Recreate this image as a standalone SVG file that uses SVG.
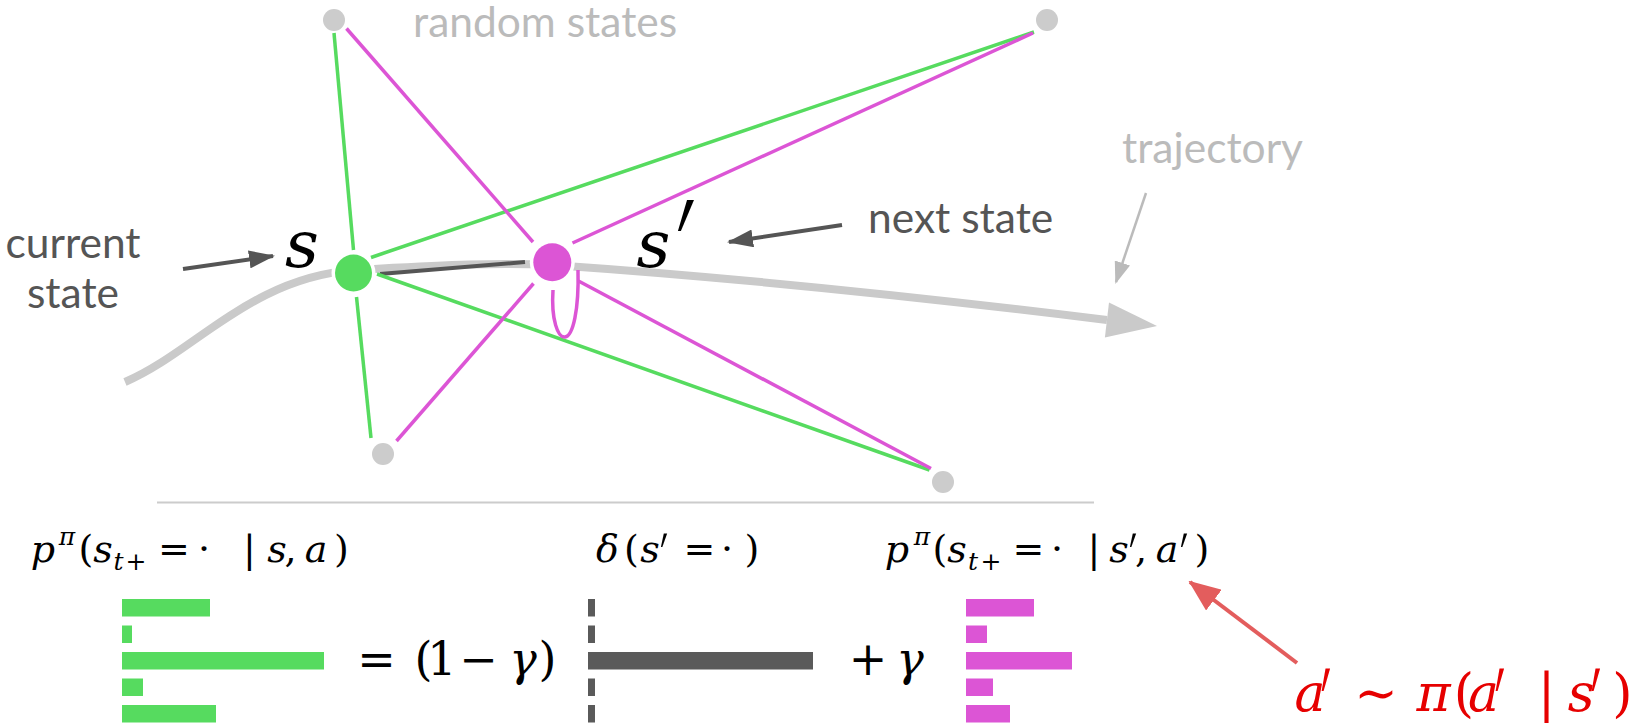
<svg xmlns="http://www.w3.org/2000/svg" width="1638" height="727" viewBox="0 0 1638 727">
<defs>
<style>
.lbl{font-family:Lato,"Open Sans","Liberation Sans",sans-serif;font-size:42.5px}
.dark{fill:#555}
.light{fill:#bbb}
.m{text-anchor:middle;font-family:"DejaVu Serif",serif}
.i{font-style:italic}
.g{stroke:#56db5f;stroke-width:3.5;fill:none}
.p{stroke:#dc55d5;stroke-width:3.5;fill:none}
</style>
<marker id="ad" markerUnits="userSpaceOnUse" markerWidth="26" markerHeight="18" refX="24" refY="9" orient="auto"><path d="M0,0 L26,9 L0,18 z" fill="#555"/></marker>
<marker id="al" markerUnits="userSpaceOnUse" markerWidth="22" markerHeight="16" refX="20" refY="8" orient="auto"><path d="M0,0 L22,8 L0,16 z" fill="#bbb"/></marker>
<marker id="ar" markerUnits="userSpaceOnUse" markerWidth="32" markerHeight="26" refX="30" refY="13" orient="auto"><path d="M0,0 L32,13 L0,26 z" fill="#e35d5d"/></marker>
</defs>
<rect width="1638" height="727" fill="#fff"/>

<g id="trajectory">
<path d="M125,382 C195,352 250,278 354,270 C430,266 490,262 552,265 Q800,282 1107,320" fill="none" stroke="#cacaca" stroke-width="8"/>
<polygon points="1157,326 1109,302.6 1104.9,337.4" fill="#cacaca"/>
</g>

<g id="connectors">
<line x1="380" y1="274" x2="525" y2="262" stroke="#555" stroke-width="4"/>
<line class="g" x1="334" y1="33" x2="353.5" y2="250"/>
<line class="g" x1="371" y1="257.5" x2="1034" y2="32"/>
<line class="g" x1="356.5" y1="297" x2="371" y2="438"/>
<line class="g" x1="377" y1="274" x2="929.5" y2="470"/>
<line class="p" x1="346.5" y1="28.5" x2="533" y2="242"/>
<line class="p" x1="572.5" y1="243" x2="1033" y2="33"/>
<line class="p" x1="533.5" y1="283.5" x2="396.5" y2="441"/>
<line class="p" x1="578.5" y1="281" x2="931" y2="468.5"/>
<path class="p" d="M553,290 C551,320 558,338 565,337 C573,336 579,310 578,270"/>
<line x1="183" y1="269" x2="273" y2="256" stroke="#555" stroke-width="4" marker-end="url(#ad)"/>
<line x1="842" y1="225" x2="729" y2="242" stroke="#555" stroke-width="4" marker-end="url(#ad)"/>
<line x1="1146" y1="193" x2="1116" y2="282" stroke="#bbb" stroke-width="2.5" marker-end="url(#al)"/>
<line x1="1297" y1="663" x2="1190" y2="582" stroke="#e35d5d" stroke-width="4" marker-end="url(#ar)"/>
</g>

<g id="node-s">
<circle cx="353.5" cy="273" r="22" fill="#fff"/>
<circle cx="353.5" cy="273" r="18.5" fill="#56db5f"/>
<text class="m i" x="302" y="267" font-size="66">s</text>
</g>
<g id="node-s-prime">
<circle cx="552.3" cy="262.3" r="22.5" fill="#fff"/>
<circle cx="552.3" cy="262.3" r="19" fill="#dc55d5"/>
<text class="m i" x="653.5" y="267" font-size="66">s</text>
<text class="m" transform="translate(675,324) scale(1,2.43) skewX(-14)" font-size="70">′</text>
</g>
<g id="random-states" fill="#ccc">
<circle cx="334" cy="20" r="11"/>
<circle cx="1047" cy="20" r="11"/>
<circle cx="383" cy="454" r="11"/>
<circle cx="943" cy="482" r="11"/>
<text class="lbl light" x="413" y="37">random states</text>
</g>
<g id="labels">
<text class="lbl dark" x="73" y="258" text-anchor="middle">current</text>
<text class="lbl dark" x="73" y="308" text-anchor="middle">state</text>
<text class="lbl dark" x="868" y="233">next state</text>
<text class="lbl light" x="1122" y="163">trajectory</text>
</g>

<line id="separator" x1="157" y1="502.5" x2="1094" y2="502.5" stroke="#ccc" stroke-width="2"/>

<g id="formula-1">
<text class="m" y="562" font-size="38"><tspan class="i" x="43">p</tspan><tspan class="i" x="67" y="545" font-size="25">π</tspan><tspan x="86" y="562">(</tspan><tspan class="i" x="103">s</tspan><tspan class="i" x="118.5" y="570" font-size="25">t</tspan><tspan x="136" y="570" font-size="25">+</tspan><tspan x="174" y="562">=</tspan><tspan x="204">·</tspan><tspan x="249.5">|</tspan><tspan class="i" x="277">s</tspan><tspan x="290.5">,</tspan><tspan class="i" x="316">a</tspan><tspan x="341.5">)</tspan></text>
<g fill="#56db5f">
<rect x="122" y="599" width="88" height="17.5"/>
<rect x="122" y="625.5" width="10" height="17.5"/>
<rect x="122" y="652" width="202" height="17.5"/>
<rect x="122" y="678.5" width="21" height="17.5"/>
<rect x="122" y="705" width="94" height="17.5"/>
</g>
</g>

<g id="formula-2">
<text class="m" y="562" font-size="38"><tspan class="i" x="607.5">δ</tspan><tspan x="631.5">(</tspan><tspan class="i" x="650">s</tspan><tspan x="699.5">=</tspan><tspan x="727">·</tspan><tspan x="752">)</tspan></text>
<text class="m" transform="translate(664,588) scale(1,2.2)" font-size="34">′</text>
<text class="m" y="675" font-size="46"><tspan x="376.5">=</tspan><tspan x="423.5">(</tspan><tspan x="442">1</tspan><tspan x="478.5">−</tspan><tspan class="i" x="523">γ</tspan><tspan x="547.5">)</tspan></text>
<g fill="#5a5a5a">
<rect x="588" y="599" width="7" height="17.5"/>
<rect x="588" y="625.5" width="7" height="17.5"/>
<rect x="588" y="652" width="225" height="17.5"/>
<rect x="588" y="678.5" width="7" height="17.5"/>
<rect x="588" y="705" width="7" height="17.5"/>
</g>
</g>

<g id="formula-3">
<text class="m" y="562" font-size="38"><tspan class="i" x="897">p</tspan><tspan class="i" x="922" y="545" font-size="25">π</tspan><tspan x="940" y="562">(</tspan><tspan class="i" x="957">s</tspan><tspan class="i" x="973" y="570" font-size="25">t</tspan><tspan x="991" y="570" font-size="25">+</tspan><tspan x="1028.5" y="562">=</tspan><tspan x="1057">·</tspan><tspan x="1094">|</tspan><tspan class="i" x="1119">s</tspan><tspan x="1141" y="562">,</tspan><tspan class="i" x="1167">a</tspan><tspan x="1202" y="562">)</tspan></text>
<text class="m" transform="translate(1133,588) scale(1,2.2)" font-size="34">′</text>
<text class="m" transform="translate(1184,588) scale(1,2.2)" font-size="34">′</text>
<text class="m" y="675" font-size="46"><tspan x="868">+</tspan><tspan class="i" x="910">γ</tspan></text>
<g fill="#dc55d5">
<rect x="966" y="599" width="68" height="17.5"/>
<rect x="966" y="625.5" width="21" height="17.5"/>
<rect x="966" y="652" width="106" height="17.5"/>
<rect x="966" y="678.5" width="27" height="17.5"/>
<rect x="966" y="705" width="44" height="17.5"/>
</g>
</g>

<g id="policy-note" fill="#e60000">
<text class="m" y="711" font-size="52"><tspan class="i" x="1310">a</tspan><tspan x="1376">∼</tspan><tspan class="i" x="1433.5">π</tspan><tspan x="1464">(</tspan><tspan class="i" x="1483.5">a</tspan><tspan x="1546.5">|</tspan><tspan class="i" x="1581">s</tspan><tspan x="1622.5">)</tspan></text>
<text class="m" transform="translate(1326,759) scale(1,2.7)" font-size="46">′</text>
<text class="m" transform="translate(1500,759) scale(1,2.7)" font-size="46">′</text>
<text class="m" transform="translate(1596,759) scale(1,2.7)" font-size="46">′</text>
</g>
</svg>
